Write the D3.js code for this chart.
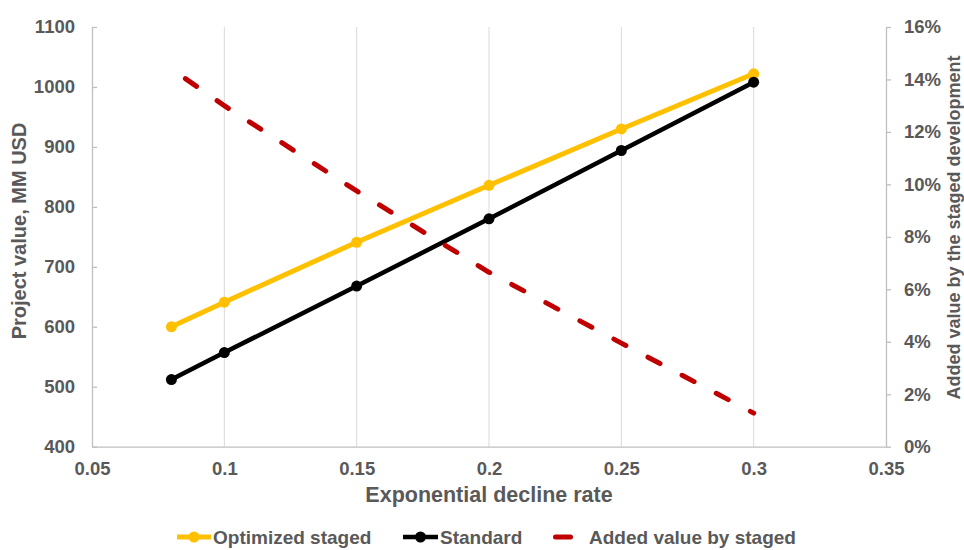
<!DOCTYPE html>
<html>
<head>
<meta charset="utf-8">
<script src="https://cdn.jsdelivr.net/npm/d3@7"></script>
<style>
    body { margin: 0; background: #fff; }
    svg { display: block; font-family: "Liberation Sans", Arial, sans-serif; font-weight: bold; }
</style>
</head>
<body>
<svg id="chart" width="964" height="550"></svg>
<script>
// values
var declineRate = [0.08, 0.1, 0.15, 0.2, 0.25, 0.3];
var optimizedStaged = [600, 641, 741, 836, 930, 1022];
var standard = [512, 557, 668, 780, 894, 1008];
var addedValue = [0.144, 0.130, 0.0975, 0.0665, 0.0395, 0.0128];

var xTicks = [0.05, 0.1, 0.15, 0.2, 0.25, 0.3, 0.35];
var xTickLabels = ["0.05", "0.1", "0.15", "0.2", "0.25", "0.3", "0.35"];
var leftTicks = [400, 500, 600, 700, 800, 900, 1000, 1100];
var rightTicks = [0, 0.02, 0.04, 0.06, 0.08, 0.1, 0.12, 0.14, 0.16];

var seriesNames = ["Optimized staged", "Standard", "Added value by staged"];

const textColor = "#595959";
const yellow = "#FFC000";
const red = "#C00000";

const svg = d3.select("#chart");

const plotLeft = 92, plotRight = 886, plotTop = 27, plotBottom = 446.7;

const x = d3.scaleLinear().domain([0.05, 0.35]).range([plotLeft, plotRight]);
const yLeft = d3.scaleLinear().domain([400, 1100]).range([plotBottom, plotTop]);
const yRight = d3.scaleLinear().domain([0, 0.16]).range([plotBottom, plotTop]);

// vertical gridlines
svg.append("g")
    .selectAll("line")
    .data(xTicks.slice(1, -1))
    .join("line")
    .attr("x1", d => x(d))
    .attr("x2", d => x(d))
    .attr("y1", plotTop)
    .attr("y2", plotBottom)
    .attr("stroke", "#d9d9d9")
    .attr("stroke-width", 1);

function styleAxis(g) {
    g.select(".domain").attr("stroke", "#bfbfbf").attr("stroke-width", 1.3);
    g.selectAll(".tick line").attr("stroke", "#bfbfbf").attr("stroke-width", 1.3);
    g.selectAll("text")
        .attr("fill", textColor)
        .style("font-size", "18.5px")
        .style("font-family", "\"Liberation Sans\", Arial, sans-serif")
        .style("font-weight", "bold");
}

svg.append("g")
    .attr("transform", `translate(0,${plotBottom})`)
    .call(d3.axisBottom(x).tickValues(xTicks).tickSize(0).tickPadding(15)
        .tickFormat((d, i) => xTickLabels[i]).tickSizeOuter(0))
    .call(styleAxis);

svg.append("g")
    .attr("transform", `translate(${plotLeft},0)`)
    .call(d3.axisLeft(yLeft).tickValues(leftTicks).tickSize(-5).tickPadding(17)
        .tickFormat(d3.format("d")).tickSizeOuter(0))
    .call(styleAxis);

svg.append("g")
    .attr("transform", `translate(${plotRight},0)`)
    .call(d3.axisRight(yRight).tickValues(rightTicks).tickSize(5).tickPadding(13)
        .tickFormat(d3.format(".0%")).tickSizeOuter(0))
    .call(styleAxis);

// value lines
const lineLeft = d3.line()
    .x(d => x(d[0]))
    .y(d => yLeft(d[1]));

const optPts = declineRate.map((d, i) => [d, optimizedStaged[i]]);
const stdPts = declineRate.map((d, i) => [d, standard[i]]);
const addPts = declineRate.map((d, i) => [d, addedValue[i]]);

svg.append("path")
    .attr("d", lineLeft(optPts))
    .attr("fill", "none")
    .attr("stroke", yellow)
    .attr("stroke-width", 5)
    .attr("stroke-linejoin", "round");

svg.append("g")
    .selectAll("circle")
    .data(optPts)
    .join("circle")
    .attr("cx", d => x(d[0]))
    .attr("cy", d => yLeft(d[1]))
    .attr("r", 5.5)
    .attr("fill", yellow);

svg.append("path")
    .attr("d", lineLeft(stdPts))
    .attr("fill", "none")
    .attr("stroke", "#000")
    .attr("stroke-width", 4.5)
    .attr("stroke-linejoin", "round");

svg.append("g")
    .selectAll("circle")
    .data(stdPts)
    .join("circle")
    .attr("cx", d => x(d[0]))
    .attr("cy", d => yLeft(d[1]))
    .attr("r", 5.5)
    .attr("fill", "#000");

svg.append("path")
    .attr("d", d3.line().x(d => x(d[0])).y(d => yRight(d[1]))(addPts))
    .attr("fill", "none")
    .attr("stroke", red)
    .attr("stroke-width", 5)
    .attr("stroke-linecap", "round")
    .attr("stroke-dasharray", "13.6,25")
    .attr("stroke-dashoffset", 21.6);

// axis titles
svg.append("text")
    .attr("x", (plotLeft + plotRight) / 2)
    .attr("y", 501.5)
    .attr("text-anchor", "middle")
    .attr("fill", textColor)
    .style("font-size", "21.5px")
    .text("Exponential decline rate");

svg.append("text")
    .attr("transform", "translate(26,231) rotate(-90)")
    .attr("text-anchor", "middle")
    .attr("fill", textColor)
    .style("font-size", "20px")
    .text("Project value, MM USD");

svg.append("text")
    .attr("transform", "translate(959.5,227.5) rotate(-90)")
    .attr("text-anchor", "middle")
    .attr("fill", textColor)
    .style("font-size", "18px")
    .text("Added value by the staged development");

// legend
const legendY = 537;
const legend = svg.append("g");

legend.append("line")
    .attr("x1", 177).attr("x2", 211).attr("y1", legendY).attr("y2", legendY)
    .attr("stroke", yellow).attr("stroke-width", 5);
legend.append("circle")
    .attr("cx", 194).attr("cy", legendY).attr("r", 5.5).attr("fill", yellow);

legend.append("line")
    .attr("x1", 403).attr("x2", 438).attr("y1", legendY).attr("y2", legendY)
    .attr("stroke", "#000").attr("stroke-width", 4.5);
legend.append("circle")
    .attr("cx", 420.5).attr("cy", legendY).attr("r", 5.5).attr("fill", "#000");

legend.append("line")
    .attr("x1", 555.5).attr("x2", 570.5).attr("y1", legendY).attr("y2", legendY)
    .attr("stroke", red).attr("stroke-width", 5).attr("stroke-linecap", "round");

var legendX = [213, 440, 589];
legend.selectAll("text")
    .data(seriesNames)
    .join("text")
    .attr("x", (d, i) => legendX[i])
    .attr("y", legendY + 7)
    .attr("fill", textColor)
    .style("font-size", "19px")
    .text(d => d);
</script>
</body>
</html>
